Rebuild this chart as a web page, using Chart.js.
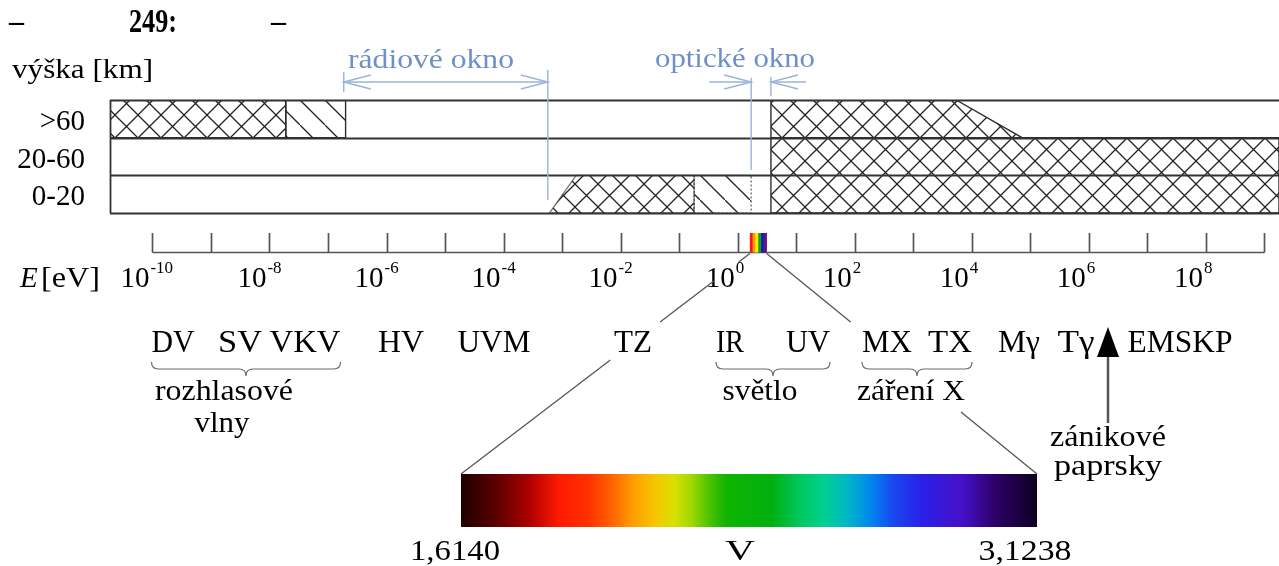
<!DOCTYPE html>
<html>
<head>
<meta charset="utf-8">
<script src="https://cdn.jsdelivr.net/npm/chart.js@4.4.1/dist/chart.umd.min.js"></script>
<style>
  html, body { margin: 0; padding: 0; background: #fff; overflow: hidden; }
  canvas { display: block; }
</style>
</head>
<body>
<canvas id="c" width="1279" height="566"></canvas>
<script>
// Altitude bands of the atmosphere, from the top down
const bands = ['>60', '20-60', '0-20'];

// Photon energy axis in eV: exponents carrying a tick, and those carrying a label
const tickExponents = [-10, -9, -8, -7, -6, -5, -4, -3, -2, -1, 0, 1, 2, 3, 4, 5, 6, 7, 8, 9];
const labelExponents = [-10, -8, -6, -4, -2, 0, 2, 4, 6, 8];
const energyMin = 1.886e-11;
const energyMax = 1.774e9;

// Absorbing regions as outlines of [energy eV, band level]; level 0 = ground, 3 = top band edge
const opaqueRadioHigh = [[1.886e-11, 2], [1.886e-11, 3], [1.9e-8, 3], [1.9e-8, 2]];
const partialRadioHigh = [[1.9e-8, 2], [1.9e-8, 3], [2e-7, 3], [2e-7, 2]];
const opaqueInfraredLow = [[6.1e-4, 0], [1.74e-3, 1], [0.18, 1], [0.18, 0]];
const partialInfraredLow = [[0.18, 0], [0.18, 1], [1.7, 1], [1.7, 0]];
const opaqueShortLower = [[3.7, 0], [3.7, 2], [1.774e9, 2], [1.774e9, 0]];
const opaqueShortUpper = [[3.7, 2], [3.7, 3], [5.4e3, 3], [7.2e4, 2]];

// Atmospheric windows (eV) and the visible band (eV)
const radioWindow = [1.86e-7, 5.7e-4];
const opticalWindow = [1.7, 3.7];
const visibleBand = [1.614, 3.1238];

// Spectrum regions and their groupings
const regionNames = ['DV', 'SV', 'VKV', 'HV', 'UVM', 'TZ', 'IR', 'UV', 'MX', 'TX', 'Mγ', 'Tγ', 'EMSKP'];
const groupNames = [['rozhlasové', 'vlny'], ['světlo'], ['záření X']];
const groupMembers = [[0, 2], [6, 7], [8, 9]];
const visibleEnds = ['1,6140', '3,1238'];
const visibleMid = 'V';

// ---- layout (pixels) ----
const regionCenters = [173, 240, 305, 401, 494, 633, 730, 808, 887, 950, 1019, 1076, 1180];
const regionWidths = [43, 44, 71, 46, 73, 38, 28, 44, 50, 44, 42, 37, 105];
const FONT = '"Liberation Serif", "Times New Roman", serif';

function hatchPattern(ctx, kind) {
  const s = kind === 'cross' ? 23 : 25;
  const tile = document.createElement('canvas');
  tile.width = s; tile.height = s;
  const g = tile.getContext('2d');
  g.strokeStyle = '#222';
  g.lineWidth = 1.3;
  g.beginPath();
  g.moveTo(-2, -2); g.lineTo(s + 2, s + 2);
  if (kind === 'cross') { g.moveTo(s + 2, -2); g.lineTo(-2, s + 2); }
  g.stroke();
  return ctx.createPattern(tile, 'repeat');
}

function txt(ctx, s, x, y, o) {
  ctx.save();
  ctx.font = (o.italic ? 'italic ' : '') + (o.bold ? 'bold ' : '') + o.size + 'px ' + FONT;
  ctx.fillStyle = o.color || '#000';
  ctx.textBaseline = 'alphabetic';
  ctx.textAlign = 'left';
  const nat = ctx.measureText(s).width;
  const k = o.w ? o.w / nat : 1;
  const w = nat * k;
  const left = o.align === 'center' ? x - w / 2 : o.align === 'right' ? x - w : x;
  ctx.translate(left, y);
  ctx.scale(k, 1);
  ctx.fillText(s, 0, 0);
  ctx.restore();
  return w;
}

function brokenLine(ctx, x1, y1, x2, y2, gaps) {
  // straight connector that is interrupted over the given vertical ranges
  const cuts = [[y1, y1]].concat(gaps).concat([[y2, y2]]);
  const at = yy => x1 + (x2 - x1) * (yy - y1) / (y2 - y1);
  for (let i = 0; i < cuts.length - 1; i++) {
    const ya = cuts[i][1], yb = cuts[i + 1][0];
    ctx.beginPath();
    ctx.moveTo(at(ya), ya);
    ctx.lineTo(at(yb), yb);
    ctx.stroke();
  }
}

function brace(ctx, x1, x2, top) {
  const cx = (x1 + x2) / 2, mid = top + 7, tip = top + 14;
  ctx.beginPath();
  ctx.moveTo(x1, top);
  ctx.quadraticCurveTo(x1, mid, x1 + 7, mid);
  ctx.lineTo(cx - 7, mid);
  ctx.quadraticCurveTo(cx, mid, cx, tip);
  ctx.quadraticCurveTo(cx, mid, cx + 7, mid);
  ctx.lineTo(x2 - 7, mid);
  ctx.quadraticCurveTo(x2, mid, x2, top);
  ctx.stroke();
}

function arrowHead(ctx, tipX, tipY, dir) {
  ctx.beginPath();
  ctx.moveTo(tipX - dir * 27, tipY - 7);
  ctx.lineTo(tipX, tipY);
  ctx.lineTo(tipX - dir * 27, tipY + 7);
  ctx.stroke();
}

const diagram = {
  id: 'diagram',
  afterDatasetsDraw(chart) {
    const { ctx, chartArea: a, scales: { x, y } } = chart;
    const X = v => x.getPixelForValue(v);
    const Y = v => y.getPixelForValue(v);
    ctx.save();

    // band frame
    ctx.strokeStyle = '#333';
    ctx.lineWidth = 1.8;
    for (let lv = 0; lv <= bands.length; lv++) {
      const py = Math.round(Y(lv)) + 0.5;
      ctx.beginPath(); ctx.moveTo(a.left, py); ctx.lineTo(a.right, py); ctx.stroke();
    }
    ctx.beginPath(); ctx.moveTo(a.left + 0.5, Y(3)); ctx.lineTo(a.left + 0.5, Y(0)); ctx.stroke();

    // header
    txt(ctx, '–', 9, 31, { size: 30, bold: true });
    txt(ctx, '249:', 129, 32, { size: 34, bold: true, w: 48 });
    txt(ctx, '–', 271, 31, { size: 30, bold: true });
    txt(ctx, 'výška [km]', 12, 78, { size: 27, w: 141 });

    // band labels
    bands.forEach((b, i) => {
      const lv = bands.length - i - 0.5;
      txt(ctx, b, 85, Y(lv) + 11, { size: 29, align: 'right' });
    });

    // atmospheric windows
    const blue = '#9ab4d8';
    ctx.strokeStyle = blue;
    ctx.lineWidth = 1.4;
    const arrowY = 82;
    const r0 = X(radioWindow[0]), r1 = X(radioWindow[1]);
    ctx.beginPath(); ctx.moveTo(r0, 72); ctx.lineTo(r0, 92); ctx.stroke();
    ctx.beginPath(); ctx.moveTo(r1, 70); ctx.lineTo(r1, 200); ctx.stroke();
    ctx.beginPath(); ctx.moveTo(r0, arrowY); ctx.lineTo(r1, arrowY); ctx.stroke();
    arrowHead(ctx, r0, arrowY, -1);
    arrowHead(ctx, r1, arrowY, 1);
    const o0 = X(opticalWindow[0]), o1 = X(opticalWindow[1]);
    ctx.beginPath(); ctx.moveTo(o0, 78); ctx.lineTo(o0, 170); ctx.stroke();
    ctx.beginPath(); ctx.moveTo(o1, 77); ctx.lineTo(o1, 96); ctx.stroke();
    ctx.beginPath(); ctx.moveTo(o0 - 42, arrowY); ctx.lineTo(o0, arrowY); ctx.stroke();
    ctx.beginPath(); ctx.moveTo(o1, arrowY); ctx.lineTo(o1 + 35, arrowY); ctx.stroke();
    arrowHead(ctx, o0, arrowY, 1);
    arrowHead(ctx, o1, arrowY, -1);
    txt(ctx, 'rádiové okno', 348, 68, { size: 27, w: 166, color: '#6f90c6' });
    txt(ctx, 'optické okno', 655, 67, { size: 27, w: 160, color: '#6f90c6' });

    // energy axis
    const axisY = 252.5, tickTop = 233;
    ctx.strokeStyle = '#555';
    ctx.lineWidth = 1.7;
    ctx.beginPath();
    ctx.moveTo(X(Math.pow(10, tickExponents[0])), axisY);
    ctx.lineTo(X(Math.pow(10, tickExponents[tickExponents.length - 1])), axisY);
    ctx.stroke();
    tickExponents.forEach(e => {
      const tx = Math.round(X(Math.pow(10, e))) + 0.5;
      ctx.beginPath(); ctx.moveTo(tx, tickTop); ctx.lineTo(tx, axisY); ctx.stroke();
    });

    // visible band on the axis
    const v0 = X(visibleBand[0]), v1 = X(visibleBand[1]);
    const stripes = ['#ff1414', '#ff9a00', '#f6ee00', '#14a014', '#1c1cb4', '#5c1484'];
    stripes.forEach((c, i) => {
      ctx.fillStyle = c;
      const sx = v0 + (v1 - v0) * i / stripes.length;
      ctx.fillRect(sx, tickTop, (v1 - v0) / stripes.length + 0.3, axisY - tickTop);
    });

    // axis labels
    txt(ctx, 'E', 20, 287, { size: 29, italic: true });
    txt(ctx, '[eV]', 41, 287, { size: 29, w: 59 });
    labelExponents.forEach(e => {
      const tx = X(Math.pow(10, e));
      txt(ctx, '10', tx - 3, 287, { size: 29, align: 'right' });
      txt(ctx, String(e), tx - 2, 273, { size: 17 });
    });

    // connectors from the visible band to its enlargement
    const bigL = 461, bigR = 1037, bigTop = 474, bigBot = 527;
    ctx.strokeStyle = '#555';
    ctx.lineWidth = 1.3;
    brokenLine(ctx, v0, axisY + 1, bigL, bigTop, [[262, 281], [322, 360]]);
    brokenLine(ctx, v1, axisY + 1, bigR, bigTop, [[322, 412]]);

    // region names
    regionNames.forEach((n, i) => {
      txt(ctx, n, regionCenters[i], 352, { size: 31, align: 'center', w: regionWidths[i] });
    });

    // braces and group names
    ctx.strokeStyle = '#6a6a6a';
    ctx.lineWidth = 1.2;
    groupMembers.forEach((m) => {
      const xa = regionCenters[m[0]] - regionWidths[m[0]] / 2;
      const xb = regionCenters[m[1]] + regionWidths[m[1]] / 2;
      brace(ctx, xa, xb, 362);
    });
    txt(ctx, groupNames[0][0], 224, 400, { size: 29, align: 'center', w: 138 });
    txt(ctx, groupNames[0][1], 222, 432, { size: 29, align: 'center', w: 55 });
    txt(ctx, groupNames[1][0], 760, 400, { size: 29, align: 'center', w: 75 });
    txt(ctx, groupNames[2][0], 911, 400, { size: 29, align: 'center', w: 108 });

    // annihilation rays marker
    ctx.fillStyle = '#000';
    ctx.beginPath();
    ctx.moveTo(1108, 327); ctx.lineTo(1119, 357); ctx.lineTo(1097, 357); ctx.closePath();
    ctx.fill();
    ctx.strokeStyle = '#555';
    ctx.lineWidth = 2.5;
    ctx.beginPath(); ctx.moveTo(1108, 357); ctx.lineTo(1108, 423); ctx.stroke();
    txt(ctx, 'zánikové', 1108, 446, { size: 29, align: 'center', w: 116 });
    txt(ctx, 'paprsky', 1108, 475, { size: 29, align: 'center', w: 108 });

    // enlarged visible spectrum
    const g = ctx.createLinearGradient(bigL, 0, bigR, 0);
    [[0, '#1e0000'], [0.06, '#5a0000'], [0.12, '#b00000'], [0.17, '#ff1a00'], [0.22, '#ff3000'],
     [0.26, '#ff6000'], [0.30, '#ffa000'], [0.34, '#f5c800'], [0.37, '#d8e000'], [0.40, '#a0d800'],
     [0.43, '#50c400'], [0.46, '#10b400'], [0.54, '#00b010'], [0.59, '#00c860'], [0.63, '#00d090'],
     [0.67, '#00b8c8'], [0.71, '#0088ee'], [0.75, '#1848f0'], [0.80, '#2a20e8'], [0.87, '#4610c8'],
     [0.93, '#2c0064'], [1, '#0e0020']].forEach(([p, c]) => g.addColorStop(p, c));
    ctx.fillStyle = g;
    ctx.fillRect(bigL, bigTop, bigR - bigL, bigBot - bigTop);
    txt(ctx, visibleEnds[0], 455, 560, { size: 30, align: 'center', w: 90 });
    txt(ctx, visibleMid, 740, 560, { size: 30, align: 'center', w: 30 });
    txt(ctx, visibleEnds[1], 1025, 560, { size: 30, align: 'center', w: 93 });

    ctx.restore();
  }
};

const canvas = document.getElementById('c');
const mainCtx = canvas.getContext('2d');
const crossFill = hatchPattern(mainCtx, 'cross');
const slashFill = hatchPattern(mainCtx, 'slash');

function region(points, fill, extra) {
  const pts = points.concat([points[0]]).map(([e, lv]) => ({ x: e, y: lv }));
  return Object.assign({
    data: pts,
    showLine: true,
    fill: 'shape',
    backgroundColor: fill,
    borderColor: '#2e2e2e',
    borderWidth: 1.4,
    pointRadius: 0,
    tension: 0
  }, extra || {});
}

new Chart(canvas, {
  type: 'scatter',
  data: {
    datasets: [
      region(opaqueRadioHigh, crossFill),
      region(partialRadioHigh, slashFill),
      region(opaqueInfraredLow, crossFill, { borderColor: 'rgba(40,40,40,0.6)' }),
      region(partialInfraredLow, slashFill, { borderDash: [2, 2], borderColor: '#777' }),
      region(opaqueShortLower, crossFill),
      region(opaqueShortUpper, crossFill)
    ]
  },
  options: {
    responsive: false,
    animation: false,
    devicePixelRatio: 1,
    layout: { padding: { left: 110, right: 0, top: 100, bottom: 353 } },
    plugins: { legend: { display: false }, tooltip: { enabled: false }, title: { display: false } },
    scales: {
      x: { type: 'logarithmic', min: energyMin, max: energyMax, display: false },
      y: { type: 'linear', min: 0, max: 3, display: false }
    }
  },
  plugins: [diagram]
});
</script>
</body>
</html>
